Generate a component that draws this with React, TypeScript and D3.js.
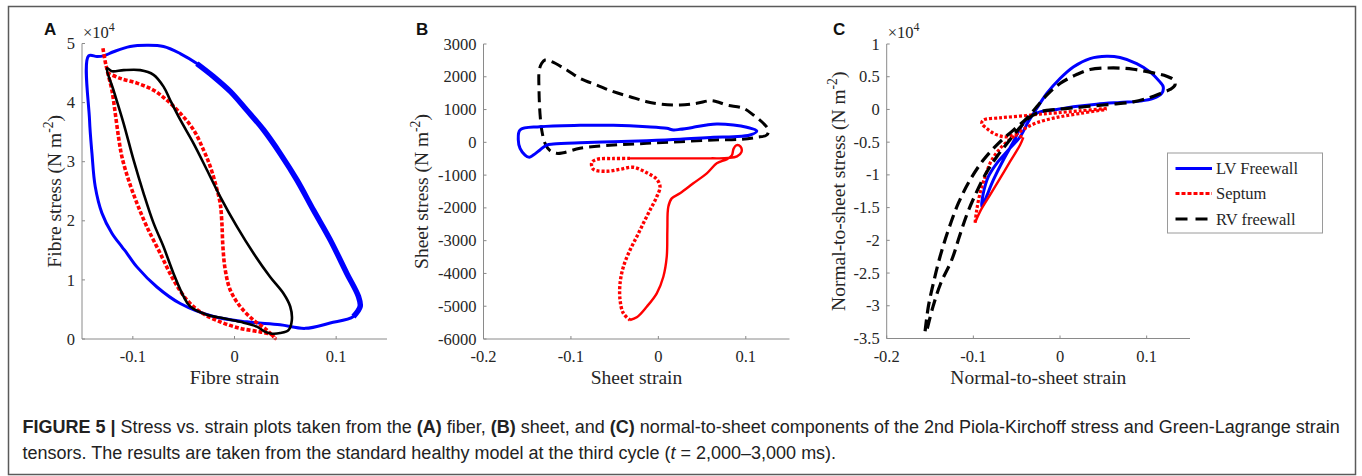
import React from 'react';
import * as d3 from 'd3';

type Pt = [number, number];

// ---- Panel A: fibre stress (x1e4 N m^-2) vs fibre strain ----
const fibreLV: Pt[] = [
	[-0.1435, 4.79], [-0.1426, 3.71], [-0.1402, 3.14], [-0.137, 2.58], [-0.1304, 2.13],
	[-0.1206, 1.79], [-0.1107, 1.56], [-0.1058, 1.45], [-0.096, 1.22], [-0.0763, 0.88],
	[-0.0534, 0.6], [-0.0206, 0.38], [0.0122, 0.29], [0.0449, 0.24], [0.0695, 0.18],
	[0.0941, 0.27], [0.117, 0.38], [0.1236, 0.55], [0.1219, 0.72], [0.1105, 1.11],
	[0.0941, 1.68], [0.0777, 2.18], [0.0614, 2.69], [0.0449, 3.14], [0.0285, 3.54],
	[0.0122, 3.87], [-0.0042, 4.19], [-0.0206, 4.44], [-0.037, 4.66], [-0.0534, 4.83],
	[-0.0698, 4.95], [-0.0862, 4.97], [-0.1026, 4.95], [-0.119, 4.86], [-0.1288, 4.79],
	[-0.1353, 4.78],
];
const fibreRV: Pt[] = [
	[-0.1255, 4.58], [-0.1205, 4.53], [-0.109, 4.55], [-0.0927, 4.55], [-0.0796, 4.47],
	[-0.0698, 4.27], [-0.0632, 4.04], [-0.0534, 3.71], [-0.0403, 3.31], [-0.0271, 2.86],
	[-0.0141, 2.41], [0.0024, 1.9], [0.0187, 1.45], [0.0351, 1.05], [0.0482, 0.77],
	[0.0548, 0.55], [0.0564, 0.32], [0.0531, 0.15], [0.0449, 0.1], [0.0368, 0.09],
	[0.0302, 0.12], [0.022, 0.21], [0.0056, 0.29], [-0.0108, 0.35], [-0.0271, 0.41],
	[-0.0436, 0.55], [-0.0501, 0.72], [-0.06, 1.11], [-0.0698, 1.56], [-0.0796, 1.96],
	[-0.0895, 2.47], [-0.0993, 3.03], [-0.1091, 3.65], [-0.119, 4.21],
];
const fibreSeptum: Pt[] = [
	[-0.1294, 4.92], [-0.1271, 4.69], [-0.1249, 4.52], [-0.1206, 4.21], [-0.1173, 3.82],
	[-0.1141, 3.42], [-0.1107, 3.08], [-0.1042, 2.69], [-0.096, 2.3], [-0.0862, 1.9],
	[-0.0731, 1.45], [-0.06, 1.0], [-0.0468, 0.66], [-0.0337, 0.46], [-0.0141, 0.29],
	[0.0056, 0.18], [0.0253, 0.12], [0.0368, 0.07], [0.04, 0.01], [0.0319, 0.15],
	[0.0187, 0.32], [0.0056, 0.55], [-0.0042, 0.83], [-0.0091, 1.17], [-0.0114, 1.56],
	[-0.0124, 1.96], [-0.0141, 2.3], [-0.018, 2.58], [-0.0239, 2.92], [-0.0305, 3.2],
	[-0.0403, 3.54], [-0.0534, 3.82], [-0.0665, 4.04], [-0.0796, 4.21], [-0.096, 4.33],
	[-0.1124, 4.41], [-0.1249, 4.5],
];

// ---- Panel B: sheet stress (N m^-2) vs sheet strain ----
const sheetLV: Pt[] = [
	[-0.1582, 376], [-0.1354, 477], [-0.0896, 520], [-0.0515, 520], [-0.0133, 477],
	[0.0096, 428], [0.0172, 376], [0.0248, 397], [0.04, 459], [0.0554, 529],
	[0.0668, 559], [0.0858, 529], [0.1011, 459], [0.1126, 346], [0.1049, 224],
	[0.0858, 172], [0.0629, 154], [0.0248, 92], [-0.0133, 50], [-0.0515, 20],
	[-0.0896, -11], [-0.1201, -51], [-0.1277, -82], [-0.1354, -234], [-0.143, -387],
	[-0.1476, -458], [-0.1525, -387], [-0.1582, -183], [-0.1602, 71],
];
const sheetRV: Pt[] = [
	[-0.1296, 2512], [-0.122, 2460], [-0.1048, 2207], [-0.0896, 1953], [-0.0705, 1749],
	[-0.0515, 1545], [-0.0324, 1392], [-0.0133, 1240], [0.0019, 1169], [0.0248, 1139],
	[0.0439, 1191], [0.0592, 1270], [0.0668, 1240], [0.0783, 1139], [0.0973, 1038],
	[0.1087, 834], [0.1201, 580], [0.1259, 376], [0.124, 224], [0.1126, 154],
	[0.0935, 92], [0.0629, 71], [0.0248, 20], [-0.0133, -30], [-0.0515, -82],
	[-0.0896, -183], [-0.1087, -316], [-0.1163, -336], [-0.1239, -255], [-0.1296, -30],
	[-0.1334, 376], [-0.1354, 885], [-0.1365, 1597], [-0.1362, 2207], [-0.1334, 2411],
];
const sheetSeptumSolid: Pt[] = [
	[-0.0324, -5421], [-0.0247, -5339], [-0.0133, -5015], [-0.0018, -4607], [0.0057, -4100],
	[0.0096, -3489], [0.0103, -2675], [0.0114, -1964], [0.0153, -1709], [0.0248, -1555],
	[0.04, -1250], [0.0554, -945], [0.0668, -640], [0.078, -520], [0.084, -400],
	[0.086, -200], [0.089, -90], [0.094, -130], [0.095, -300], [0.09, -430],
	[0.08, -480], [0.06, -488], [0.03, -488], [0, -490], [-0.0324, -490],
];
const sheetSeptumDotted: Pt[] = [
	[-0.0324, -490], [-0.0515, -495], [-0.0705, -520], [-0.0762, -620], [-0.0744, -823],
	[-0.059, -884], [-0.0438, -823], [-0.0286, -762], [-0.0133, -927], [-0.0018, -1128],
	[0.0019, -1354], [-0.0018, -1659], [-0.0095, -2065], [-0.0172, -2471], [-0.0247, -2879],
	[-0.0324, -3285], [-0.04, -3795], [-0.0438, -4301], [-0.0438, -4811], [-0.04, -5217],
	[-0.0324, -5421],
];

// ---- Panel C: normal-to-sheet stress (x1e4 N m^-2) vs normal-to-sheet strain ----
const normalLV: Pt[] = [
	[-0.0903, -1.485], [-0.0885, -1.28], [-0.0827, -1.027], [-0.073, -0.823], [-0.0596, -0.62],
	[-0.0461, -0.418], [-0.0366, -0.189], [-0.0269, 0.015], [-0.0153, 0.244], [0, 0.473],
	[0.0153, 0.65], [0.0346, 0.777], [0.0538, 0.812], [0.0692, 0.793], [0.0885, 0.701],
	[0.1038, 0.573], [0.1153, 0.421], [0.1191, 0.345], [0.1173, 0.244], [0.1076, 0.168],
	[0.0923, 0.127], [0.0692, 0.107], [0.0423, 0.081], [0.0153, 0.04], [-0.0038, 0],
	[-0.0231, -0.037], [-0.0346, -0.102], [-0.0423, -0.213], [-0.0481, -0.341], [-0.0538, -0.494],
	[-0.0654, -0.773], [-0.0769, -1.078], [-0.0865, -1.383],
];
const normalRV: Pt[] = [
	[-0.1557, -3.39], [-0.1519, -3.009], [-0.1461, -2.652], [-0.1384, -2.247], [-0.1288, -1.84],
	[-0.1173, -1.433], [-0.1038, -1.078], [-0.0885, -0.773], [-0.0711, -0.518], [-0.0538, -0.316],
	[-0.0384, -0.137], [-0.0269, 0.04], [-0.0153, 0.218], [0, 0.396], [0.0192, 0.534],
	[0.0346, 0.61], [0.0615, 0.634], [0.0846, 0.614], [0.1076, 0.558], [0.1231, 0.508],
	[0.1315, 0.447], [0.1326, 0.37], [0.1269, 0.305], [0.1173, 0.253], [0.1038, 0.183],
	[0.0846, 0.116], [0.0615, 0.081], [0.0384, 0.055], [0.0153, 0.024], [-0.0038, 0],
	[-0.0231, -0.037], [-0.0366, -0.137], [-0.0461, -0.274], [-0.0596, -0.494], [-0.073, -0.723],
	[-0.0854, -0.976], [-0.0961, -1.256], [-0.1069, -1.585], [-0.1161, -1.942], [-0.1249, -2.297],
	[-0.1375, -2.652], [-0.1465, -3.009], [-0.1535, -3.364],
];
const normalSeptumTop: Pt[] = [
	[0.0538, 0.015], [0.0231, -0.021], [-0.0038, -0.052], [-0.0231, -0.072], [-0.0461, -0.102],
	[-0.0692, -0.128], [-0.0885, -0.163], [-0.0903, -0.213], [-0.0846, -0.29], [-0.075, -0.377],
	[-0.0634, -0.418], [-0.0519, -0.392], [-0.0423, -0.427],
];
const normalSeptumSolid: Pt[] = [
	[-0.0423, -0.427], [-0.0461, -0.544], [-0.0577, -0.799], [-0.0692, -1.052], [-0.0807, -1.306],
	[-0.0923, -1.561], [-0.098, -1.729],
];
const normalSeptumReturn: Pt[] = [
	[-0.098, -1.729], [-0.0961, -1.535], [-0.0923, -1.28], [-0.0865, -1.027], [-0.0788, -0.773],
	[-0.0673, -0.57], [-0.0538, -0.418], [-0.0423, -0.305], [-0.0269, -0.204], [-0.0038, -0.122],
	[0.0231, -0.061], [0.0538, 0],
];

// ---- ticks and labels ----
const fibreXTicks = [-0.1, 0, 0.1];
const fibreYTicks = [0, 1, 2, 3, 4, 5];
const sheetXTicks = [-0.2, -0.1, 0, 0.1];
const sheetYTicks = [-6000, -5000, -4000, -3000, -2000, -1000, 0, 1000, 2000, 3000];
const normalXTicks = [-0.2, -0.1, 0, 0.1];
const normalYTicks = [-3.5, -3, -2.5, -2, -1.5, -1, -0.5, 0, 0.5, 1];
const legendLabels = ['LV Freewall', 'Septum', 'RV freewall'];

const SERIF = '"Liberation Serif", "Times New Roman", serif';
const SANS = '"Liberation Sans", Arial, sans-serif';
const BLUE = '#0000ff';
const RED = '#ff0000';
const BLACK = '#000000';
const AXIS = '#8a8a8a';
const TEXT = '#262626';
const TICK_FS = 16.5;
const LABEL_FS = 19.5;
const CAPTION_FS = 18;

interface Series {
	data: Pt[];
	color: string;
	width: number;
	dash?: string;
	closed?: boolean;
}

interface PanelProps {
	left: number;
	top: number;
	width: number;
	height: number;
	xDomain: [number, number];
	yDomain: [number, number];
	xTicks: number[];
	yTicks: number[];
	xLabel: string;
	yLabel: string;
	yLabelX: number;
	letter: string;
	letterX: number;
	exponent?: boolean;
	series: Series[];
}

function Panel(props: PanelProps) {
	const {
		left, top, width, height, xDomain, yDomain, xTicks, yTicks,
		xLabel, yLabel, yLabelX, letter, letterX, exponent, series,
	} = props;
	const x = d3.scaleLinear().domain(xDomain).range([left, left + width]);
	const y = d3.scaleLinear().domain(yDomain).range([top + height, top]);
	const bottom = top + height;
	const cy = top + height / 2;

	const pathFor = (s: Series) => d3.line<Pt>()
		.x(d => x(d[0]))
		.y(d => y(d[1]))
		.curve(s.closed ? d3.curveCatmullRomClosed.alpha(0.5) : d3.curveCatmullRom.alpha(0.5))(s.data) || '';

	return (
		<g>
			<text x={letterX} y={35} fontFamily={SANS} fontWeight="bold" fontSize={17} fill="#111">{letter}</text>
			{exponent && (
				<text x={left + 1} y={38} fontFamily={SERIF} fontSize={TICK_FS} fill={TEXT}>
					×10<tspan dy={-7} fontSize={TICK_FS * 0.72}>4</tspan>
				</text>
			)}

			{/* data */}
			{series.map((s, i) => (
				<path
					key={i}
					d={pathFor(s)}
					fill="none"
					stroke={s.color}
					strokeWidth={s.width}
					strokeDasharray={s.dash}
					strokeLinejoin="round"
				/>
			))}

			{/* axes */}
			<line x1={left} x2={left} y1={top} y2={bottom} stroke={AXIS} strokeWidth={1} />
			<line x1={left} x2={left + width} y1={bottom} y2={bottom} stroke={AXIS} strokeWidth={1} />
			{yTicks.map(t => (
				<g key={`y${t}`}>
					<line x1={left} x2={left + 3} y1={y(t)} y2={y(t)} stroke={AXIS} />
					<text x={left - 7} y={y(t) + TICK_FS * 0.34} textAnchor="end" fontFamily={SERIF} fontSize={TICK_FS} fill={TEXT}>{String(t)}</text>
				</g>
			))}
			{xTicks.map(t => (
				<g key={`x${t}`}>
					<line x1={x(t)} x2={x(t)} y1={bottom} y2={bottom - 3} stroke={AXIS} />
					<text x={x(t)} y={bottom + 23} textAnchor="middle" fontFamily={SERIF} fontSize={TICK_FS} fill={TEXT}>{String(t)}</text>
				</g>
			))}
			<text x={left + width / 2} y={bottom + 45} textAnchor="middle" fontFamily={SERIF} fontSize={LABEL_FS} fill={TEXT}>{xLabel}</text>
			<text
				transform={`translate(${yLabelX + LABEL_FS * 0.33},${cy}) rotate(-90)`}
				textAnchor="middle"
				fontFamily={SERIF}
				fontSize={LABEL_FS}
				fill={TEXT}
			>
				{yLabel}
				<tspan dy={-8} fontSize={LABEL_FS * 0.7}>-2</tspan>
				<tspan dy={8}>)</tspan>
			</text>
		</g>
	);
}

export default function App() {
	const legendRows = [
		{ color: BLUE, width: 3, dash: undefined },
		{ color: RED, width: 3.2, dash: '4,2' },
		{ color: BLACK, width: 3.2, dash: '12,8' },
	];
	const legendY = [168.5, 193.5, 219];

	return (
		<svg width={1362} height={476} style={{ position: 'absolute', left: 0, top: 0, background: '#fff' }}>
			<rect x={8.5} y={6.5} width={1347} height={468} fill="#fff" stroke="#5a5a5a" strokeWidth={1.5} />

			<Panel
				left={82} top={43.5} width={305} height={295.5}
				xDomain={[-0.15, 0.15]} yDomain={[0, 5]}
				xTicks={fibreXTicks} yTicks={fibreYTicks}
				xLabel="Fibre strain" yLabel="Fibre stress (N m" yLabelX={55}
				letter="A" letterX={44} exponent
				series={[
					{ data: fibreLV, color: BLUE, width: 3, closed: true },
					{ data: fibreLV.slice(16, 29), color: BLUE, width: 5.5 },
					{ data: fibreSeptum, color: RED, width: 3.6, dash: '4,2' },
					{ data: fibreRV, color: BLACK, width: 2.6, closed: true },
				]}
			/>

			<Panel
				left={483.5} top={44} width={306} height={295}
				xDomain={[-0.2, 0.15]} yDomain={[-6000, 3000]}
				xTicks={sheetXTicks} yTicks={sheetYTicks}
				xLabel="Sheet strain" yLabel="Sheet stress (N m" yLabelX={422}
				letter="B" letterX={416}
				series={[
					{ data: sheetRV, color: BLACK, width: 3, dash: '11,6', closed: true },
					{ data: sheetLV, color: BLUE, width: 3, closed: true },
					{ data: sheetSeptumSolid, color: RED, width: 2.4 },
					{ data: sheetSeptumDotted, color: RED, width: 3.4, dash: '3,2' },
				]}
			/>

			<Panel
				left={886.7} top={44} width={303.3} height={294.5}
				xDomain={[-0.2, 0.15]} yDomain={[-3.5, 1]}
				xTicks={normalXTicks} yTicks={normalYTicks}
				xLabel="Normal-to-sheet strain" yLabel="Normal-to-sheet stress (N m" yLabelX={839}
				letter="C" letterX={833} exponent
				series={[
					{ data: normalLV, color: BLUE, width: 3, closed: true },
					{ data: normalSeptumTop, color: RED, width: 3.2, dash: '3,2' },
					{ data: normalSeptumSolid, color: RED, width: 2.4 },
					{ data: normalSeptumReturn, color: RED, width: 3.2, dash: '3,2' },
					{ data: normalRV, color: BLACK, width: 3.2, dash: '12,6' },
				]}
			/>

			{/* legend */}
			<rect x={1167.5} y={153} width={155} height={80} fill="#fff" stroke="#9a9a9a" strokeWidth={1} />
			{legendLabels.map((label, i) => (
				<g key={label}>
					<line x1={1175.5} x2={1212} y1={legendY[i]} y2={legendY[i]} stroke={legendRows[i].color} strokeWidth={legendRows[i].width} strokeDasharray={legendRows[i].dash} />
					<text x={1216} y={legendY[i] + 5.5} fontFamily={SERIF} fontSize={TICK_FS} fill={TEXT}>{label}</text>
				</g>
			))}

			{/* caption */}
			<text x={22.5} y={433} fontFamily={SANS} fontSize={CAPTION_FS} fill="#222">
				<tspan fontWeight="bold">FIGURE 5 |</tspan>
				{' Stress vs. strain plots taken from the '}
				<tspan fontWeight="bold">(A)</tspan>
				{' fiber, '}
				<tspan fontWeight="bold">(B)</tspan>
				{' sheet, and '}
				<tspan fontWeight="bold">(C)</tspan>
				{' normal-to-sheet components of the 2nd Piola-Kirchoff stress and Green-Lagrange strain'}
			</text>
			<text x={22.5} y={459} fontFamily={SANS} fontSize={CAPTION_FS} fill="#222">
				{'tensors. The results are taken from the standard healthy model at the third cycle ('}
				<tspan fontStyle="italic">t</tspan>
				{' = 2,000–3,000 ms).'}
			</text>
		</svg>
	);
}
